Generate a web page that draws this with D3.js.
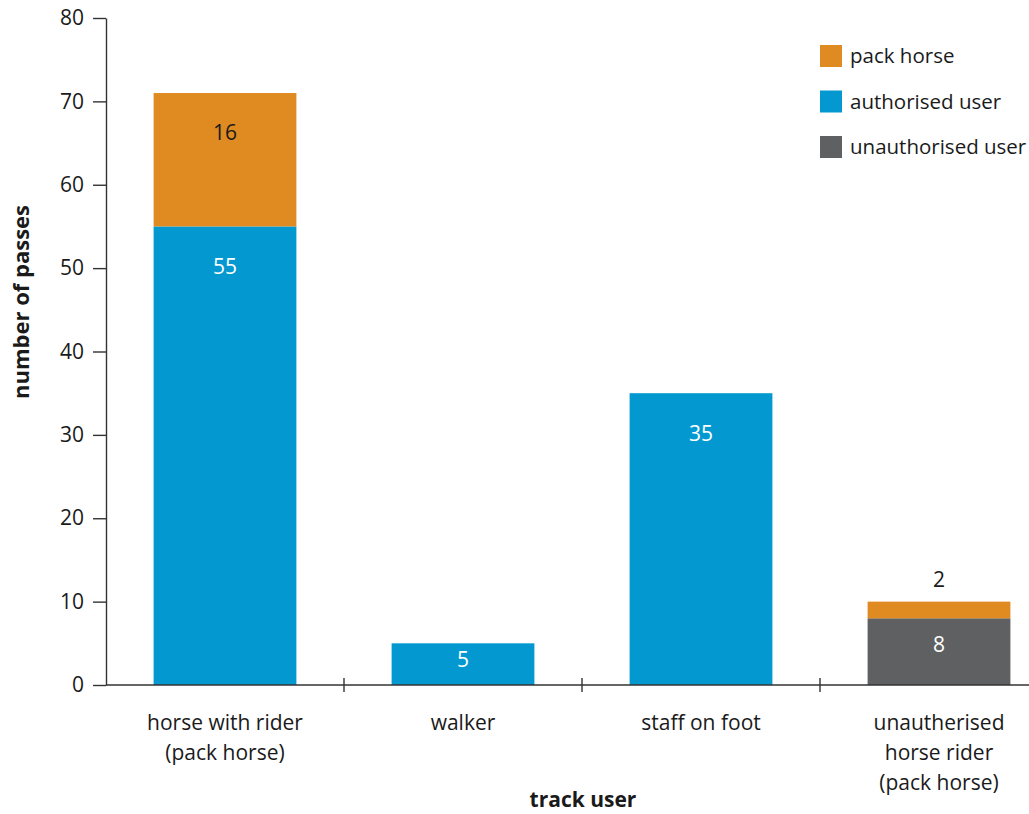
<!DOCTYPE html>
<html>
<head>
<meta charset="utf-8">
<script src="https://cdn.jsdelivr.net/npm/d3@7"></script>
<style>
  html, body { margin: 0; padding: 0; background: #fff; }
  svg { display: block; font-family: "Open Sans", "Noto Sans", sans-serif; }
</style>
</head>
<body>
<svg id="chart" width="1029" height="814"></svg>
<script>
// Track users and pass counts per group
const categories = [
  ["horse with rider", "(pack horse)"],
  ["walker"],
  ["staff on foot"],
  ["unautherised", "horse rider", "(pack horse)"]
];
const seriesNames = ["unauthorised user", "authorised user", "pack horse"];
const unauthorisedUser = [0, 0, 0, 8];
const authorisedUser = [55, 5, 35, 0];
const packHorse = [16, 0, 0, 2];
const yTicks = [0, 10, 20, 30, 40, 50, 60, 70, 80];
const legendOrder = ["pack horse", "authorised user", "unauthorised user"];

const colors = {
  "pack horse": "#e08a22",
  "authorised user": "#0399d0",
  "unauthorised user": "#5f6062"
};
const labelColors = {
  "pack horse": "#1a1a1a",
  "authorised user": "#ffffff",
  "unauthorised user": "#ffffff"
};

const svg = d3.select("#chart");
const margin = { left: 106, top: 18, bottom: 129 };
const x0 = 106, bandW = 238;
const height = 814;

const keys = categories.map((c, i) => i);
const x = d3.scaleBand().domain(keys).range([x0, x0 + bandW * 4]).paddingInner(0).paddingOuter(0);
const y = d3.scaleLinear().domain([0, 80]).range([height - margin.bottom, margin.top]);

const table = keys.map(i => ({
  key: i,
  "unauthorised user": unauthorisedUser[i],
  "authorised user": authorisedUser[i],
  "pack horse": packHorse[i]
}));
const stacked = d3.stack().keys(seriesNames)(table);

const barW = bandW * 0.6;

// Bars
stacked.forEach(layer => {
  svg.append("g").selectAll("rect")
    .data(layer.filter(d => d[1] > d[0]))
    .join("rect")
    .attr("x", d => x(d.data.key) + (bandW - barW) / 2)
    .attr("width", barW)
    .attr("y", d => y(d[1]))
    .attr("height", d => y(d[0]) - y(d[1]))
    .attr("fill", colors[layer.key]);
});

// Segment value labels
stacked.forEach(layer => {
  svg.append("g").selectAll("text")
    .data(layer.filter(d => d[1] > d[0]))
    .join("text")
    .attr("x", d => x(d.data.key) + bandW / 2)
    .attr("y", d => {
      const top = y(d[1]), h = y(d[0]) - y(d[1]);
      if (h < 25) return top - 22;
      return Math.min(top + 40, top + h * 0.4);
    })
    .attr("dy", "0.35em")
    .attr("text-anchor", "middle")
    .attr("font-size", 21)
    .attr("fill", d => (y(d[0]) - y(d[1]) < 25) ? "#1a1a1a" : labelColors[layer.key])
    .text(d => d[1] - d[0]);
});

// Y axis
const yAxis = svg.append("g")
  .attr("transform", `translate(${x0},0)`)
  .call(d3.axisLeft(y).tickValues(yTicks).tickSize(13).tickPadding(9).tickSizeOuter(0));
yAxis.select(".domain").attr("stroke", "#333").attr("stroke-width", 1.4);
yAxis.selectAll(".tick line").attr("stroke", "#333").attr("stroke-width", 1.4);
yAxis.selectAll(".tick text").attr("font-size", 21).attr("fill", "#1a1a1a")
  .attr("font-family", "\"Open Sans\", sans-serif");

// X axis baseline and separators between groups
const baseY = y(0);
svg.append("line")
  .attr("x1", x0).attr("x2", 1029)
  .attr("y1", baseY).attr("y2", baseY)
  .attr("stroke", "#333").attr("stroke-width", 1.4);
svg.append("g").selectAll("line")
  .data(keys.slice(1))
  .join("line")
  .attr("x1", d => x(d)).attr("x2", d => x(d))
  .attr("y1", baseY - 7).attr("y2", baseY + 7)
  .attr("stroke", "#333").attr("stroke-width", 1.4);

// Category labels
svg.append("g").selectAll("text")
  .data(keys)
  .join("text")
  .attr("text-anchor", "middle")
  .attr("font-size", 21)
  .attr("fill", "#1a1a1a")
  .each(function(i) {
    const t = d3.select(this);
    categories[i].forEach((line, k) => {
      t.append("tspan")
        .attr("x", x(i) + bandW / 2)
        .attr("y", baseY + 45 + k * 30)
        .text(line);
    });
  });

// Axis titles
svg.append("text")
  .attr("x", 583).attr("y", 807)
  .attr("text-anchor", "middle")
  .attr("font-size", 21).attr("font-weight", "bold")
  .attr("fill", "#1a1a1a")
  .text("track user");
svg.append("text")
  .attr("transform", "translate(29,302) rotate(-90)")
  .attr("text-anchor", "middle")
  .attr("font-size", 22).attr("font-weight", "bold")
  .attr("fill", "#1a1a1a")
  .text("number of passes");

// Legend
const legend = svg.append("g").selectAll("g")
  .data(legendOrder)
  .join("g")
  .attr("transform", (d, i) => `translate(820,${45 + i * 45.5})`);
legend.append("rect")
  .attr("width", 22).attr("height", 22)
  .attr("fill", d => colors[d]);
legend.append("text")
  .attr("x", 30).attr("y", 11).attr("dy", "0.35em")
  .attr("font-size", 20.5).attr("fill", "#1a1a1a")
  .text(d => d);
</script>
</body>
</html>
